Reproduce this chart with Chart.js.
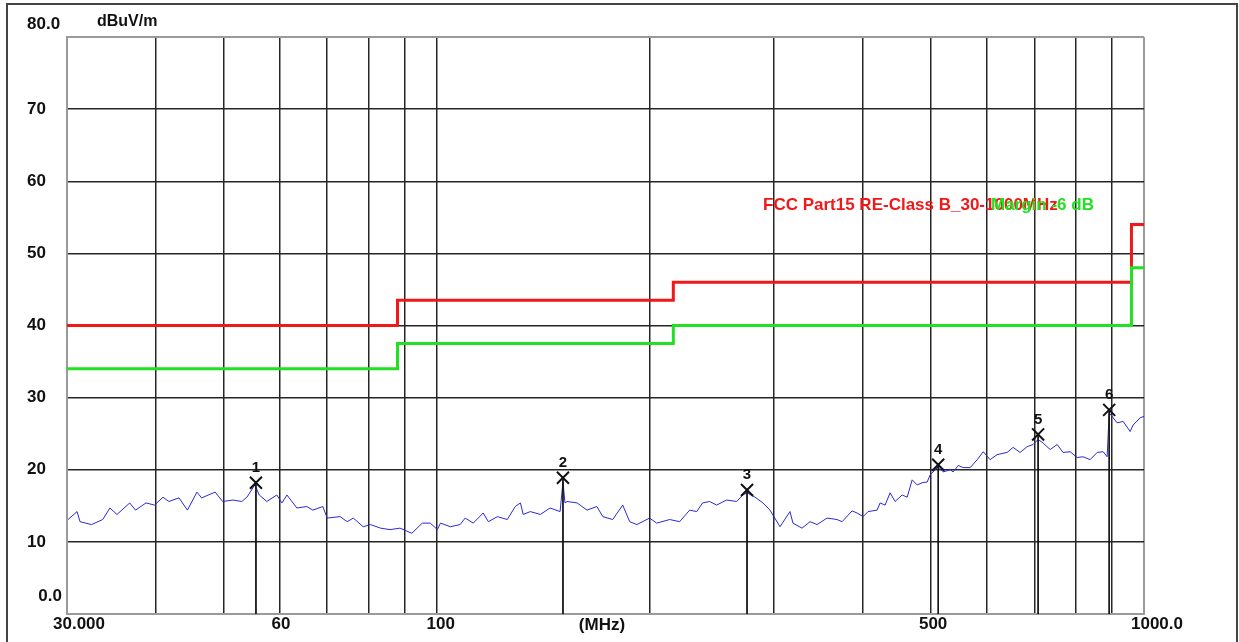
<!DOCTYPE html>
<html>
<head>
<meta charset="utf-8">
<script src="https://cdn.jsdelivr.net/npm/chart.js@4.4.1/dist/chart.umd.min.js"></script>
<style>
  html, body { margin: 0; padding: 0; background: #fff; }
  #wrap { width: 1239px; height: 642px; position: relative; }
</style>
</head>
<body>
<div id="wrap"><canvas id="c" width="1239" height="642"></canvas></div>
<script>
// ---------- DATA ----------
const freqs = [30.1,31.0,31.3,32.5,33.7,34.5,35.3,36.8,37.5,38.8,39.9,41.0,41.8,43.2,44.4,45.8,46.5,48.6,49.8,51.5,53.0,53.9,55.3,56.1,57.5,59.4,60.4,61.4,63.4,65.5,66.8,69.0,70.0,73.0,74.7,76.2,78.7,80.6,83.3,85.9,88.7,92.2,95.4,97.9,100.2,101.2,104.5,107.9,109.7,112.6,116.3,118.3,121.8,125.8,129.1,131.3,132.5,135.6,140.1,144.6,149.4,150.8,151.8,152.8,157.9,163.1,168.4,171.7,177.3,183.2,187.4,191.8,200.0,204.6,213.5,220.5,227.8,233.1,237.6,243.1,248.7,256.9,265.5,270.8,274.6,281.8,289.2,295.9,305.7,315.8,318.9,328.4,337.1,344.9,356.3,368.1,374.2,386.6,392.9,400.7,407.2,419.4,423.5,430.4,437.5,444.7,455.0,462.5,470.1,477.8,485.7,493.7,498.5,506.7,511.7,520.1,532.1,537.3,546.1,555.1,567.9,581.0,592.5,605.9,619.8,640.4,653.0,668.1,683.5,696.9,708.4,720.1,736.7,753.7,768.5,786.3,804.4,820.3,839.2,858.6,875.5,887.0,892.8,916.3,934.4,955.9,965.2,987.5,1000];
const levels = [13.1,14.2,12.8,12.4,13.1,14.7,13.8,15.4,14.4,15.4,15.1,16.2,15.6,16.1,14.4,16.9,16.1,16.9,15.6,15.8,15.6,16.2,17.9,16.5,15.6,16.5,15.4,16.5,14.7,14.9,14.4,14.9,13.3,13.5,12.8,13.3,12.1,12.4,11.9,11.7,11.9,11.2,12.6,12.6,11.7,12.6,12.1,12.4,13.3,12.6,14.0,12.8,13.5,13.1,14.9,15.4,13.8,14.2,13.8,14.7,14.2,18.3,15.4,15.6,15.4,14.4,14.9,13.5,13.1,15.1,12.8,12.4,13.3,12.6,13.1,12.8,14.4,14.2,15.4,15.6,15.1,15.8,15.6,16.5,16.8,16.2,15.4,14.4,12.1,14.2,12.6,11.9,12.8,12.4,13.3,13.1,12.8,14.3,14.0,13.5,14.2,14.4,15.4,15.1,16.8,15.6,16.5,16.2,18.6,17.9,18.2,18.3,19.3,20.0,20.4,19.7,20.0,19.7,20.6,20.3,20.3,21.4,22.5,21.4,22.1,22.4,23.1,22.4,23.2,23.5,24.2,23.7,22.8,23.5,22.4,22.5,21.7,21.8,21.4,22.4,22.5,21.8,27.9,26.5,26.7,25.3,26.2,27.2,27.4];

const limitFreqs   = [30, 88, 216, 960, 1000];
const classBLimit  = [40, 43.5, 46, 54, 54];
const marginLimit  = [34, 37.5, 40, 48, 48];

const markerFreqs  = [55.5, 150.8, 274.6, 511.7, 708.4, 892.8];
const markerLevels = [18.2, 18.9, 17.2, 20.7, 24.9, 28.3];
const markerLabels = ['1', '2', '3', '4', '5', '6'];

const xTickValues = [30,40,50,60,70,80,90,100,200,300,400,500,600,700,800,900,1000];
const xTickShown  = [30, 60, 100, 500, 1000];
const xTickText   = ['30.000', '60', '100', '500', '1000.0'];
const yTickValues = [0,10,20,30,40,50,60,70,80];
const yTickText   = ['0.0','10','20','30','40','50','60','70','80.0'];

const yUnit = 'dBuV/m';
const xUnit = '(MHz)';
const limitName  = 'FCC Part15 RE-Class B_30-1000MHz';
const marginName = 'Margin -6 dB';

// ---------- BUILD ----------
const pts = (xs, ys) => xs.map((v, i) => ({ x: v, y: ys[i] }));

const datasets = [];
datasets.push({
  label: 'markers', data: pts(markerFreqs, markerLevels), showLine: false,
  pointStyle: 'crossRot', pointRadius: 8.5, pointBorderWidth: 2,
  pointBorderColor: '#111', pointBackgroundColor: '#111', order: 0
});
markerFreqs.forEach((f, i) => {
  datasets.push({
    label: 'mline' + i, data: [{ x: f, y: markerLevels[i] }, { x: f, y: 0 }],
    borderColor: '#111', borderWidth: 1, pointRadius: 0, order: 1
  });
});
datasets.push({
  label: 'trace', data: pts(freqs, levels), borderColor: '#2a2ad6',
  borderWidth: 1, pointRadius: 0, tension: 0, order: 2
});
datasets.push({
  label: marginName, data: pts(limitFreqs, marginLimit), borderColor: '#22e022',
  borderWidth: 3, pointRadius: 0, stepped: true, order: 3
});
datasets.push({
  label: limitName, data: pts(limitFreqs, classBLimit), borderColor: '#f01818',
  borderWidth: 3, pointRadius: 0, stepped: true, order: 4
});

const FONT = '"Liberation Sans", Arial, sans-serif';

const framePlugin = {
  id: 'frame',
  beforeDraw(chart) {
    const ctx = chart.ctx;
    ctx.save();
    ctx.fillStyle = '#fff';
    ctx.fillRect(0, 0, chart.width, chart.height);
    ctx.strokeStyle = '#444';
    ctx.lineWidth = 2;
    ctx.strokeRect(7, 4, 1230, 650);
    ctx.restore();
  },
  afterDraw(chart) {
    const { ctx, scales: { x, y } } = chart;
    ctx.save();
    ctx.fillStyle = '#111';
    ctx.textBaseline = 'middle';
    ctx.font = 'bold 17px ' + FONT;
    // y labels
    yTickValues.forEach((v, i) => {
      const py = y.getPixelForValue(v);
      if (v === 80) { ctx.textAlign = 'left'; ctx.fillText(yTickText[i], 27, py - 13); }
      else if (v === 0) { ctx.textAlign = 'right'; ctx.fillText(yTickText[i], 62, py - 18); }
      else { ctx.textAlign = 'left'; ctx.fillText(yTickText[i], 27, py); }
    });
    // x labels
    const xOff = { 30: 12, 60: 1, 100: 4, 500: 2, 1000: 13 };
    ctx.textAlign = 'center';
    xTickShown.forEach((v, i) => {
      ctx.fillText(xTickText[i], x.getPixelForValue(v) + xOff[v], 624);
    });
    ctx.fillText(xUnit, 602, 625);
    // unit
    ctx.textAlign = 'left';
    ctx.font = 'bold 16px ' + FONT;
    ctx.fillText(yUnit, 97, 22);
    // marker numbers
    ctx.font = 'bold 15px ' + FONT;
    ctx.textAlign = 'center';
    markerFreqs.forEach((f, i) => {
      ctx.fillText(markerLabels[i], x.getPixelForValue(f), y.getPixelForValue(markerLevels[i]) - 15);
    });
    // legend texts
    ctx.font = 'bold 17px ' + FONT;
    ctx.textAlign = 'left';
    ctx.fillStyle = '#f01818';
    ctx.fillText(limitName, 763, 205);
    ctx.fillStyle = '#22e022';
    ctx.fillText(marginName, 991, 205);
    ctx.restore();
  }
};

const edgeColor = '#9a9a9a';
const gridColor = '#262626';

new Chart(document.getElementById('c'), {
  type: 'line',
  data: { datasets },
  options: {
    responsive: false,
    animation: false,
    devicePixelRatio: 1,
    layout: { padding: { left: 67, top: 37, right: 95, bottom: 28 } },
    plugins: { legend: { display: false }, tooltip: { enabled: false } },
    scales: {
      x: {
        type: 'logarithmic', min: 30, max: 1000,
        afterBuildTicks: (s) => { s.ticks = xTickValues.map(v => ({ value: v })); },
        afterFit: (s) => { s.height = 0; },
        ticks: { display: false },
        grid: {
          drawTicks: false,
          color: (c) => (c.tick && (c.tick.value === 30 || c.tick.value === 1000)) ? edgeColor : gridColor,
          lineWidth: (c) => (c.tick && (c.tick.value === 30 || c.tick.value === 1000)) ? 2 : 1.5
        },
        border: { display: true, color: edgeColor, width: 2 }
      },
      y: {
        type: 'linear', min: 0, max: 80,
        afterBuildTicks: (s) => { s.ticks = yTickValues.map(v => ({ value: v })); },
        afterFit: (s) => { s.width = 0; },
        ticks: { display: false },
        grid: {
          drawTicks: false,
          color: (c) => (c.tick && (c.tick.value === 0 || c.tick.value === 80)) ? edgeColor : gridColor,
          lineWidth: (c) => (c.tick && (c.tick.value === 0 || c.tick.value === 80)) ? 2 : 1.5
        },
        border: { display: true, color: edgeColor, width: 2 }
      }
    }
  },
  plugins: [framePlugin]
});
</script>
</body>
</html>
